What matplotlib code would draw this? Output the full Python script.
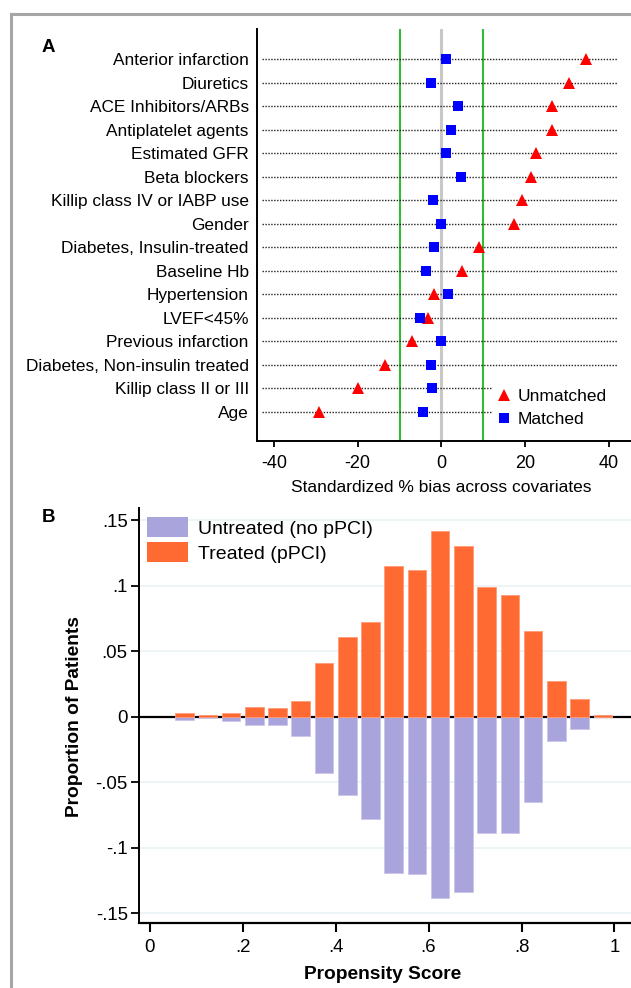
import matplotlib
matplotlib.use("Agg")
import matplotlib.pyplot as plt
from matplotlib.lines import Line2D
from matplotlib.patches import Rectangle
import numpy as np

plt.rcParams['font.family'] = ['Liberation Sans', 'DejaVu Sans']

# ---------------- Data: panel A ----------------
covariates = [
    "Anterior infarction", "Diuretics", "ACE Inhibitors/ARBs", "Antiplatelet agents",
    "Estimated GFR", "Beta blockers", "Killip class IV or IABP use", "Gender",
    "Diabetes, Insulin-treated", "Baseline Hb", "Hypertension", "LVEF<45%",
    "Previous infarction", "Diabetes, Non-insulin treated", "Killip class II or III", "Age",
]
unmatched = [34.6, 30.4, 26.5, 26.4, 22.7, 21.3, 19.3, 17.4,
             8.9, 4.8, -1.7, -3.2, -7.1, -13.4, -19.9, -29.3]
matched = [1.2, -2.6, 3.9, 2.3, 1.2, 4.6, -2.0, 0.0,
           -1.8, -3.7, 1.5, -5.2, 0.0, -2.5, -2.2, -4.5]
a_xticks = [-40, -20, 0, 20, 40]

# ---------------- Data: panel B ----------------
ps_bins = [0.075, 0.125, 0.175, 0.225, 0.275, 0.325, 0.375, 0.425, 0.475, 0.525,
           0.575, 0.625, 0.675, 0.725, 0.775, 0.825, 0.875, 0.925, 0.975]
treated = [0.0028, 0.0013, 0.0028, 0.0076, 0.0069, 0.012, 0.0412, 0.0605, 0.0722, 0.115,
           0.1119, 0.1419, 0.1299, 0.0989, 0.0926, 0.0656, 0.027, 0.0132, 0.0013]
untreated = [0.0023, 0.001, 0.0036, 0.0064, 0.0064, 0.0147, 0.0427, 0.060, 0.0783, 0.1192,
             0.1203, 0.138, 0.1337, 0.0887, 0.0887, 0.0653, 0.0183, 0.0092, 0.0005]
b_yticks = [0.15, 0.1, 0.05, 0, -0.05, -0.1, -0.15]
b_ylabels = [".15", ".1", ".05", "0", "-.05", "-.1", "-.15"]
b_xticks = [0, 0.2, 0.4, 0.6, 0.8, 1.0]
b_xlabels = ["0", ".2", ".4", ".6", ".8", "1"]

W, H = 631, 988
fig = plt.figure(figsize=(W / 100, H / 100), dpi=100)

def px_axes(x0, y0, x1, y1):
    return fig.add_axes([x0 / W, 1 - y1 / H, (x1 - x0) / W, (y1 - y0) / H])

# outer gray frame
fig.add_artist(Line2D([10.5 / W, 10.5 / W], [0, 1 - 13.7 / H], color='#a6a6a6', lw=2.2,
                      transform=fig.transFigure))
fig.add_artist(Line2D([10.5 / W, 1.0], [1 - 13.7 / H, 1 - 13.7 / H], color='#a6a6a6', lw=2.2,
                      transform=fig.transFigure))

# ---------------- Panel A ----------------
AX0, AY0, AX1, AY1 = 257, 29, 660, 440.7
axA = px_axes(AX0, AY0, AX1, AY1)
n = len(covariates)
ypos = np.arange(n, 0, -1)
axA.set_xlim(-44.06, 52.2)
axA.set_ylim(-0.235, 17.29)

axA.axvline(0, color='#c8c8c8', lw=2.2, zorder=1)
axA.axvline(-10, color='#33bb33', lw=1.5, zorder=1)
axA.axvline(10, color='#33bb33', lw=1.5, zorder=1)
axA.hlines(ypos, -42.8, 42.0, colors='#222222', linestyles=(0, (1, 1.1)), lw=1.0, zorder=2)
axA.plot(unmatched, ypos, linestyle='none', marker='^', color='#ff0000', ms=8,
         markeredgewidth=0, zorder=4, label='Unmatched')
axA.plot(matched, ypos, linestyle='none', marker='s', color='#0000ff', ms=7,
         markeredgewidth=0, zorder=4, label='Matched')

# white legend region background
def ax_frac(px, py):
    return ((px - AX0) / (AX1 - AX0), 1 - (py - AY0) / (AY1 - AY0))
rx0, ry1 = ax_frac(492, 380)
rx1, ry0 = ax_frac(628, 428)
axA.add_patch(Rectangle((rx0, ry0), rx1 - rx0, ry1 - ry0, transform=axA.transAxes,
                        facecolor='white', edgecolor='none', zorder=3))

axA.set_yticks(ypos)
axA.set_yticklabels(covariates, fontsize=12.4)
axA.tick_params(axis='y', length=0, pad=6)
axA.set_xticks(a_xticks)
axA.set_xticklabels([str(t) for t in a_xticks], fontsize=13)
axA.tick_params(axis='x', length=4.5, width=1.3, pad=6, direction='out')
for s in ['top', 'right']:
    axA.spines[s].set_visible(False)
axA.spines['left'].set_linewidth(1.4)
axA.spines['bottom'].set_linewidth(1.4)
axA.set_xlabel("Standardized % bias across covariates", fontsize=12.5)
axA.xaxis.set_label_coords((441.4 - AX0) / (AX1 - AX0), -0.095)

lx, ly = ax_frac(495, 387)
legA = axA.legend(loc='upper left', bbox_to_anchor=(lx, ly),
                  frameon=False, fontsize=12.5, handlelength=0.8, handletextpad=0.4,
                  borderpad=0.1, labelspacing=0.48, borderaxespad=0)
legA.set_zorder(5)

fig.text(42 / W, 1 - 47 / H, "A", fontsize=13.5, fontweight='bold', va='center', ha='left')

# ---------------- Panel B ----------------
BX0, BY0, BX1, BY1 = 138.8, 508, 660, 923
axB = px_axes(BX0, BY0, BX1, BY1)
axB.set_xlim(-0.0235, 1.098)
axB.set_ylim(-0.1574, 0.1592)
for t in [0.15, 0.1, 0.05, -0.05, -0.1, -0.15]:
    axB.axhline(t, color='#eaf2f3', lw=1.2, zorder=0)
axB.axhline(0, color='black', lw=1.6, zorder=1)
axB.bar(ps_bins, [-u for u in untreated], width=0.04, color='#a9a4dc', edgecolor='#c9c6ea',
        lw=0.6, zorder=2, label='Untreated (no pPCI)')
axB.bar(ps_bins, treated, width=0.04, color='#ff6a33', edgecolor='#ff9a77',
        lw=0.6, zorder=2, label='Treated (pPCI)')

axB.set_yticks(b_yticks)
axB.set_yticklabels(b_ylabels, fontsize=13.4)
axB.set_xticks(b_xticks)
axB.set_xticklabels(b_xlabels, fontsize=13.4)
axB.tick_params(axis='y', length=5.5, width=1.3, pad=2.5, direction='out')
axB.tick_params(axis='x', length=6.5, width=1.5, pad=5, direction='out')
for s in ['top', 'right']:
    axB.spines[s].set_visible(False)
axB.spines['left'].set_linewidth(1.4)
axB.spines['bottom'].set_linewidth(1.6)
axB.set_ylabel("Proportion of Patients", fontsize=13.8, fontweight='bold')
axB.yaxis.set_label_coords((83 - BX0) / (BX1 - BX0), (BY1 - 716.7) / (BY1 - BY0))
axB.set_xlabel("Propensity Score", fontsize=13.8, fontweight='bold')
axB.xaxis.set_label_coords((382.7 - BX0) / (BX1 - BX0), -(966 - BY1) / (BY1 - BY0))

handles, labels = axB.get_legend_handles_labels()
legB = axB.legend(handles, labels, loc='upper left',
                  bbox_to_anchor=((147 - BX0) / (BX1 - BX0), 1 - (517 - BY0) / (BY1 - BY0)),
                  frameon=False, fontsize=14, handlelength=2.1, handleheight=1.2,
                  handletextpad=0.5, labelspacing=0.25, borderpad=0, borderaxespad=0)
for p in legB.get_patches():
    p.set_edgecolor('none')

fig.text(42 / W, 1 - 518 / H, "B", fontsize=13.5, fontweight='bold', va='center', ha='left')

fig.savefig("out.png", dpi=100)
